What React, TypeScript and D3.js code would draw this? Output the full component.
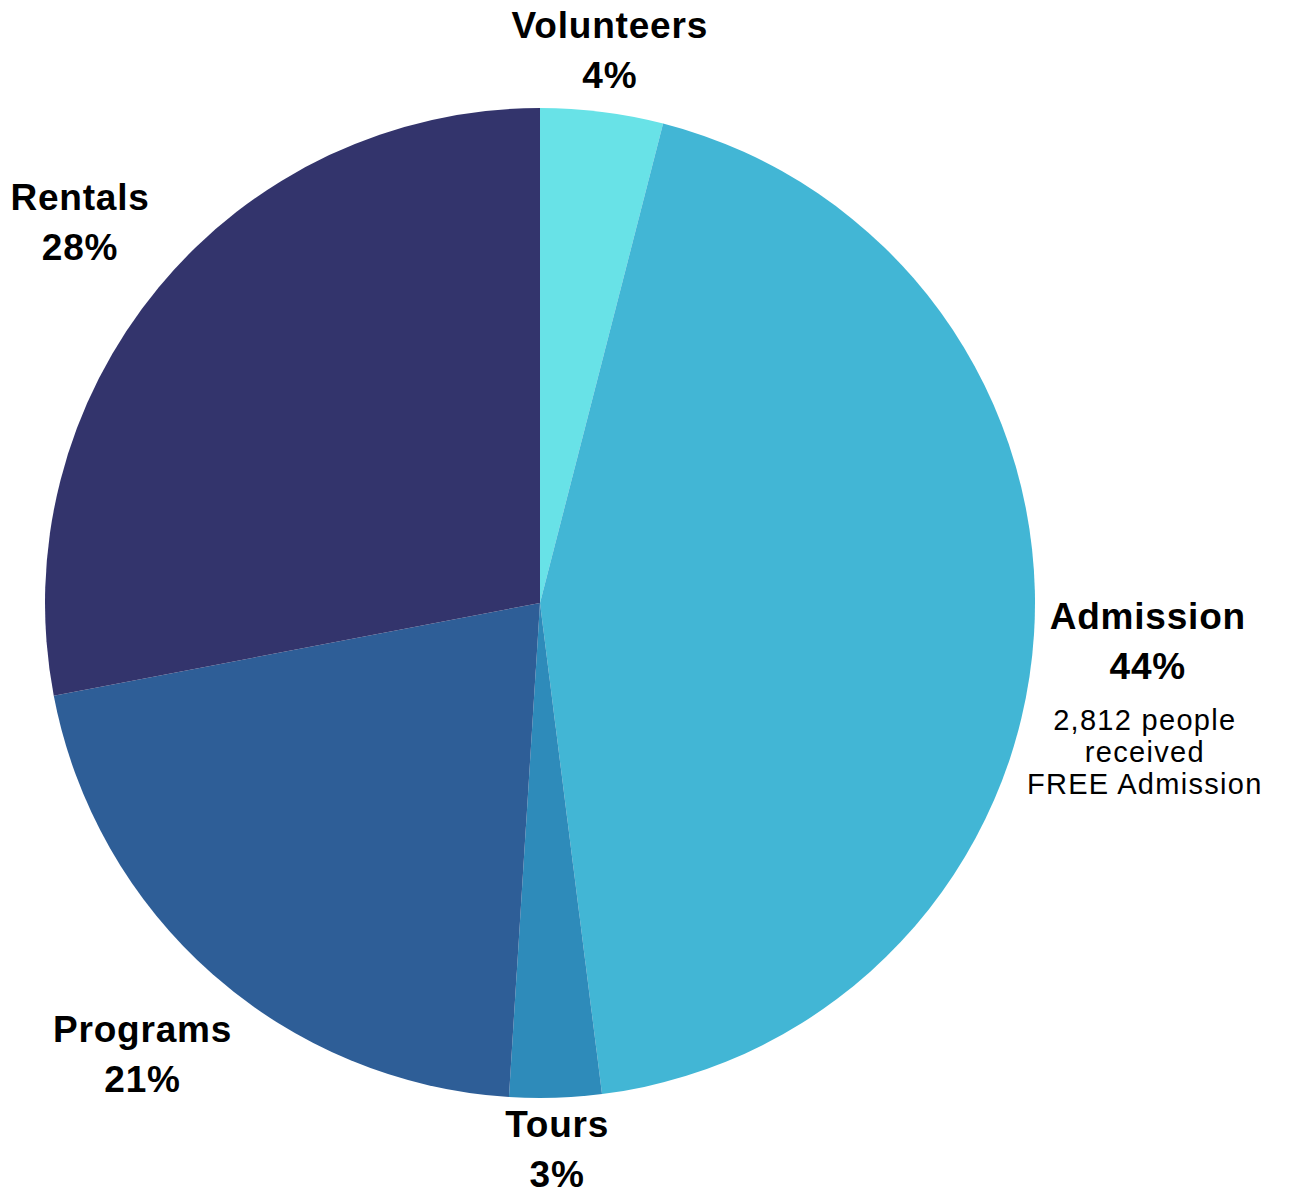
import React from "react";
import * as d3 from "d3";

const categories = ["Volunteers", "Admission", "Tours", "Programs", "Rentals"];
const values = [4, 44, 3, 21, 28];
const colors = ["#68E2E7", "#42B6D5", "#2E8BBA", "#2E5E97", "#33346C"];
const subNotes: Record<string, string[]> = {
  Admission: ["2,812 people", "received", "FREE Admission"],
};

// layout: label distance from center per category
const labelRadius: Record<string, number> = {
  Volunteers: 557,
  Admission: 609,
  Tours: 546,
  Programs: 601,
  Rentals: 597,
};

const W = 1289;
const H = 1196;
const CX = 540;
const CY = 603;
const R = 495;
const FONT = "'Liberation Sans', Arial, Helvetica, sans-serif";

export default function App() {
  const data = categories.map((c, i) => ({ name: c, value: values[i], color: colors[i] }));
  const pie = d3
    .pie<any>()
    .value((d) => d.value)
    .sort(null)
    .startAngle(0)
    .endAngle(2 * Math.PI);
  const arcs = pie(data);
  const arc = d3.arc<any>().innerRadius(0).outerRadius(R);

  return (
    <svg
      width={W}
      height={H}
      style={{ position: "absolute", left: 0, top: 0, background: "#fff" }}
    >
      <g transform={`translate(${CX},${CY})`}>
        {arcs.map((a, i) => (
          <path key={i} d={arc(a) as string} fill={a.data.color} />
        ))}
        {arcs.map((a, i) => {
          const mid = (a.startAngle + a.endAngle) / 2;
          const lr = labelRadius[a.data.name];
          const x = lr * Math.sin(mid);
          const y = -lr * Math.cos(mid);
          const notes = subNotes[a.data.name] || [];
          return (
            <g key={"l" + i} transform={`translate(${x},${y})`} fontFamily={FONT} textAnchor="middle" fill="#000">
              <text y={-12} fontSize={37} fontWeight="bold" letterSpacing={0.8}>
                {a.data.name}
              </text>
              <text y={38} fontSize={37} fontWeight="bold" letterSpacing={0.8}>
                {a.data.value}%
              </text>
              {notes.map((n, j) => (
                <text key={j} x={-3} y={89 + j * 32} fontSize={29} letterSpacing={1.3}>
                  {n}
                </text>
              ))}
            </g>
          );
        })}
      </g>
    </svg>
  );
}
